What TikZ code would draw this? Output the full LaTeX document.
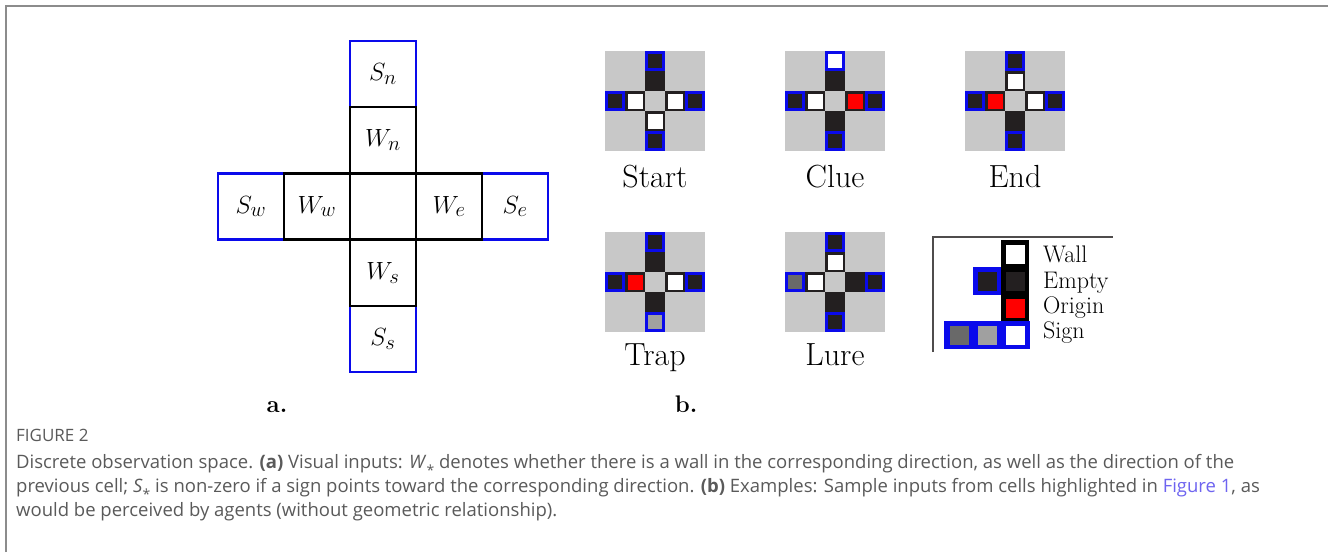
\documentclass[tikz,border=0pt]{standalone}
\usepackage{fontspec}
\newfontfamily\capfont{Open Sans}
\definecolor{sblue}{RGB}{10,10,235}
\definecolor{dk}{RGB}{35,31,32}
\definecolor{bg}{RGB}{200,200,200}
\definecolor{gA}{RGB}{160,160,160}
\definecolor{gB}{RGB}{105,105,105}
\definecolor{rd}{RGB}{255,0,0}
\definecolor{frame}{RGB}{140,140,140}
\definecolor{captxt}{RGB}{90,90,90}
\definecolor{linkc}{RGB}{110,100,240}
\tikzset{
  acell/.style={draw=black, line width=2.5pt, minimum size=66pt, inner sep=0pt, outer sep=0pt, font=\fontsize{30}{32}\selectfont},
  ablue/.style={acell, draw=sblue},
  scell/.style={draw=sblue, line width=3pt, minimum size=17pt, inner sep=0pt, outer sep=0pt},
  wcell/.style={draw=dk, line width=2.5pt, minimum size=17.5pt, inner sep=0pt, outer sep=0pt},
  ilabel/.style={anchor=base, font=\fontsize{32}{34}\selectfont},
  leglabel/.style={anchor=base west, inner sep=0pt, font=\fontsize{24}{26}\selectfont},
  inner/.style={minimum size=19pt, inner sep=0pt, outer sep=0pt},
  captext/.style={anchor=base west, inner sep=0pt, text=captxt, font=\capfont\fontsize{18.5}{21}\selectfont},
}
\newcommand\astsub{\raisebox{-0.75ex}{\fontsize{14}{14}\selectfont *}}
% #1 name prefix, #2 x, #3 y (top-left), #4 SN #5 WN #6 SW #7 WW #8 WE #9 SE
\newcommand\iconA[9]{%
  \fill[bg] (#2,#3) rectangle ++(100,100);
  \node[scell, fill=#4] (#1sn) at (#2+50,#3+10) {};
  \node[wcell, fill=#5] (#1wn) at (#2+50,#3+30) {};
  \node[scell, fill=#6] (#1sw) at (#2+10,#3+50) {};
  \node[wcell, fill=#7] (#1ww) at (#2+30,#3+50) {};
  \node[wcell, fill=#8] (#1we) at (#2+70,#3+50) {};
  \node[scell, fill=#9] (#1se) at (#2+90,#3+50) {};
}
% #1 name prefix, #2 x, #3 y, #4 WS, #5 SS
\newcommand\iconB[5]{%
  \node[wcell, fill=#4] (#1ws) at (#2+50,#3+70) {};
  \node[scell, fill=#5] (#1ss) at (#2+50,#3+90) {};
}
\begin{document}
\begin{tikzpicture}[x=1pt,y=-1pt]
\useasboundingbox (0,0) rectangle (1328,552);
\fill[white] (0,0) rectangle (1328,552);
\draw[frame, line width=1.6pt] (6,552) -- (6,6) -- (1328,6);

% ---------- panel a ----------
\node[ablue] (Sn) at (383,74) {$S_n$};
\node[ablue] (Sw) at (251,206.5) {$S_w$};
\node[ablue] (Se) at (515,206.5) {$S_e$};
\node[ablue] (Ss) at (383,339) {$S_s$};
\node[acell] (Wn) at (383,140) {$W_n$};
\node[acell] (Ww) at (317,206.5) {$W_w$};
\node[acell] (C) at (383,206.5) {};
\node[acell] (We) at (449,206.5) {$W_e$};
\node[acell] (Ws) at (383,273) {$W_s$};
\node[anchor=base, font=\fontsize{24}{26}\selectfont\bfseries] (la) at (277,412) {a.};

% ---------- panel b ----------
\iconA{st}{605}{51}{dk}{dk}{dk}{white}{white}{dk}
\iconB{st}{605}{51}{white}{dk}
\node[ilabel] (lst) at (655,187) {Start};

\iconA{cl}{785}{51}{white}{dk}{dk}{white}{rd}{dk}
\iconB{cl}{785}{51}{dk}{dk}
\node[ilabel] (lcl) at (835,187) {Clue};

\iconA{en}{965}{51}{dk}{white}{dk}{rd}{white}{dk}
\iconB{en}{965}{51}{dk}{dk}
\node[ilabel] (len) at (1015,187) {End};

\iconA{tr}{605}{232}{dk}{dk}{dk}{rd}{white}{dk}
\iconB{tr}{605}{232}{dk}{gA}
\node[ilabel] (ltr) at (655,365) {Trap};

\iconA{lu}{785}{232}{dk}{white}{gB}{white}{dk}{dk}
\iconB{lu}{785}{232}{dk}{dk}
\node[ilabel] (llu) at (835,365) {Lure};

% legend
\draw[dk!80, line width=1.5pt] (933,352) -- (933,237) -- (1113,237);
\fill[black] (1001,240) rectangle (1029,321);
\fill[sblue] (944,321) rectangle (1030,349);
\fill[sblue] (973,267) rectangle (1001,295);
\node[inner, fill=white] (lw) at (1015,254) {};
\node[inner, fill=dk] (le) at (1015,281) {};
\node[inner, fill=dk] (le2) at (987,281) {};
\node[inner, fill=rd] (lo) at (1015,308) {};
\node[inner, fill=gB] (ls1) at (959,335) {};
\node[inner, fill=gA] (ls2) at (987,335) {};
\node[inner, fill=white] (ls3) at (1015,335) {};
\node[leglabel] (tw) at (1043,262) {Wall};
\node[leglabel] (te) at (1043,288) {Empty};
\node[leglabel] (to) at (1043,313) {Origin};
\node[leglabel] (ts) at (1043,338) {Sign};

\node[anchor=base, font=\fontsize{24}{26}\selectfont\bfseries] (lb) at (686,412) {b.};

% ---------- caption ----------
\node[anchor=base west, inner sep=0pt, text=captxt, font=\capfont\fontsize{17}{19}\selectfont] (fig) at (16,441) {FIGURE 2};
\node[captext] (c1) at (16,468)
 {Discrete observation space. \textbf{(a)} Visual inputs: \textit{W}\astsub{} denotes whether there is a wall in the corresponding direction, as well as the direction of the};
\node[captext] (c2) at (16,492)
 {previous cell; \textit{S}\astsub{} is non-zero if a sign points toward the corresponding direction. \textbf{(b)} Examples: Sample inputs from cells highlighted in \textcolor{linkc}{Figure 1}, as};
\node[captext] (c3) at (16,516)
 {would be perceived by agents (without geometric relationship).};
\end{tikzpicture}
\end{document}
